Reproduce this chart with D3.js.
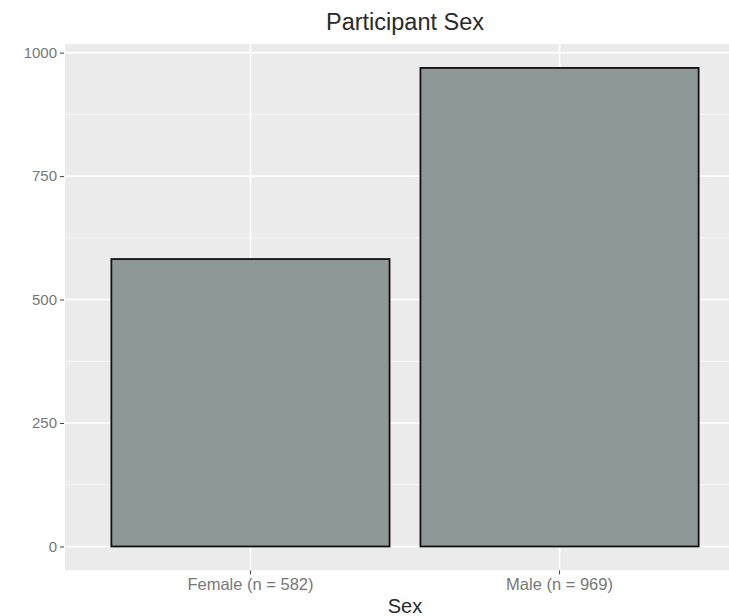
<!DOCTYPE html>
<html><head><meta charset="utf-8">
<script src="https://cdn.jsdelivr.net/npm/d3@7"></script>
<style>body{margin:0;background:#fff}svg{display:block}</style>
</head><body>
<svg id="c" width="729" height="616"></svg>
<script>
const categories = ["Female (n = 582)", "Male (n = 969)"];
const counts = [582, 969];
const yTicks = [0, 250, 500, 750, 1000];
const yMinor = [125, 375, 625, 875];
const title = "Participant Sex";
const xTitle = "Sex";

(function(){
const svg = d3.select("#c");
const pL = 65, pR = 745, pT = 44, pB = 570.4;
const ymax = d3.max(counts);
const y = d3.scaleLinear().domain([-ymax*0.05, ymax*1.05]).range([pB, pT]);
const x = d3.scaleBand().domain(categories).range([pL, pR]).paddingInner(0.1).paddingOuter(0.15);
const ff = "Liberation Sans, Arial, sans-serif";

svg.append("rect").attr("x", pL).attr("y", pT).attr("width", pR-pL).attr("height", pB-pT).attr("fill", "#ebebeb");
svg.selectAll(".minor").data(yMinor).join("line")
  .attr("x1", pL).attr("x2", pR).attr("y1", d=>y(d)).attr("y2", d=>y(d))
  .attr("stroke", "#f7f7f7").attr("stroke-width", 1);
svg.selectAll(".major").data(yTicks).join("line")
  .attr("x1", pL).attr("x2", pR).attr("y1", d=>y(d)).attr("y2", d=>y(d))
  .attr("stroke", "#ffffff").attr("stroke-width", 1.6);
svg.selectAll(".vmajor").data(categories).join("line")
  .attr("x1", d=>x(d)+x.bandwidth()/2).attr("x2", d=>x(d)+x.bandwidth()/2).attr("y1", pT).attr("y2", pB)
  .attr("stroke", "#ffffff").attr("stroke-width", 1.6);

svg.selectAll(".bar").data(categories).join("rect")
  .attr("x", d=>x(d)).attr("width", x.bandwidth())
  .attr("y", (d,i)=>y(counts[i])).attr("height", (d,i)=>y(0)-y(counts[i]))
  .attr("fill", "#8e9997").attr("stroke", "#111").attr("stroke-width", 1.8);

const ya = svg.append("g").attr("transform", `translate(${pL},0)`)
  .call(d3.axisLeft(y).tickValues(yTicks).tickSize(4).tickPadding(4).tickFormat(d3.format("d")));
ya.select(".domain").remove();
ya.selectAll("line").attr("stroke", "#444").attr("transform", "translate(-1,0)");
ya.selectAll("text").attr("fill", "#777").attr("font-family", ff).attr("font-size", 15);

const xa = svg.append("g").attr("transform", `translate(0,${pB})`)
  .call(d3.axisBottom(x).tickSize(4).tickPadding(4));
xa.select(".domain").remove();
xa.selectAll("line").attr("stroke", "#444");
xa.selectAll("text").attr("fill", "#777").attr("font-family", ff).attr("font-size", 16.5);

svg.append("text").attr("x", 405).attr("y", 30).attr("text-anchor", "middle")
  .attr("font-family", ff).attr("font-size", 23.5).attr("fill", "#2a2a2a").text(title);
svg.append("text").attr("x", 405).attr("y", 613).attr("text-anchor", "middle")
  .attr("font-family", ff).attr("font-size", 20).attr("fill", "#2a2a2a").text(xTitle);
})();
</script>
</body></html>
